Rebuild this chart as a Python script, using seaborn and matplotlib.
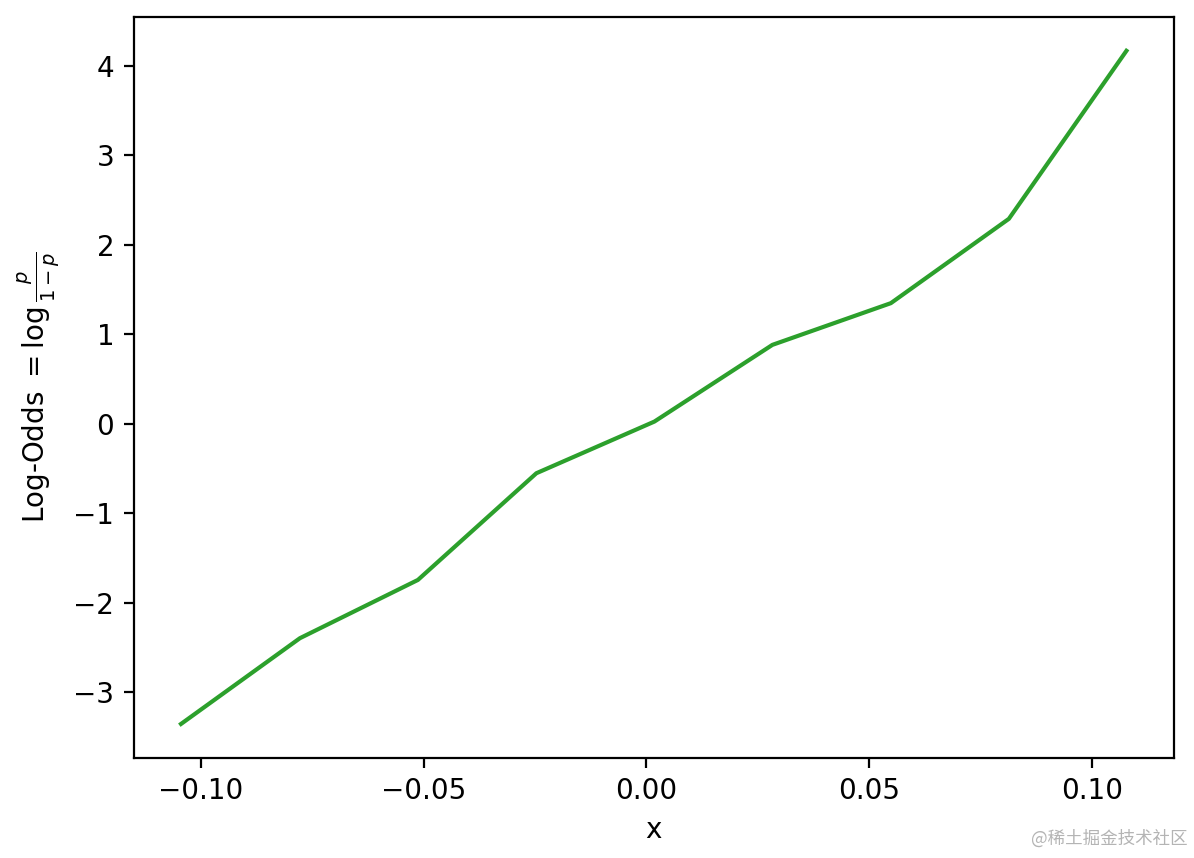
import matplotlib
matplotlib.use("Agg")
import matplotlib.pyplot as plt
import seaborn as sns
import numpy as np

# bin centres and the log-odds
x_bins = [-0.1045, -0.0778, -0.0513, -0.0247, 0.0018, 0.0283, 0.0549, 0.0814, 0.1078]
log_odds = [-3.352, -2.394, -1.743, -0.551, 0.026, 0.883, 1.349, 2.291, 4.168]

fig = plt.figure(figsize=(5.97, 4.29), dpi=200)
ax = fig.add_axes([0.112, 0.117, 0.871, 0.863])

sns.lineplot(x=x_bins, y=log_odds, color="#2ca02c", linewidth=1.5, ax=ax)
ax.set_xticks([-0.10, -0.05, 0.00, 0.05, 0.10])
ax.set_xlabel("x")
ax.set_ylabel(r"Log-Odds $=\log\frac{p}{1-p}$")

fig.text(0.995, 0.012, "@稀土掘金技术社区", ha="right", va="bottom",
         fontsize=6.3, color="#b4b4b4", family=["Noto Sans CJK SC", "DejaVu Sans"])

fig.savefig("out.png", dpi=200)
